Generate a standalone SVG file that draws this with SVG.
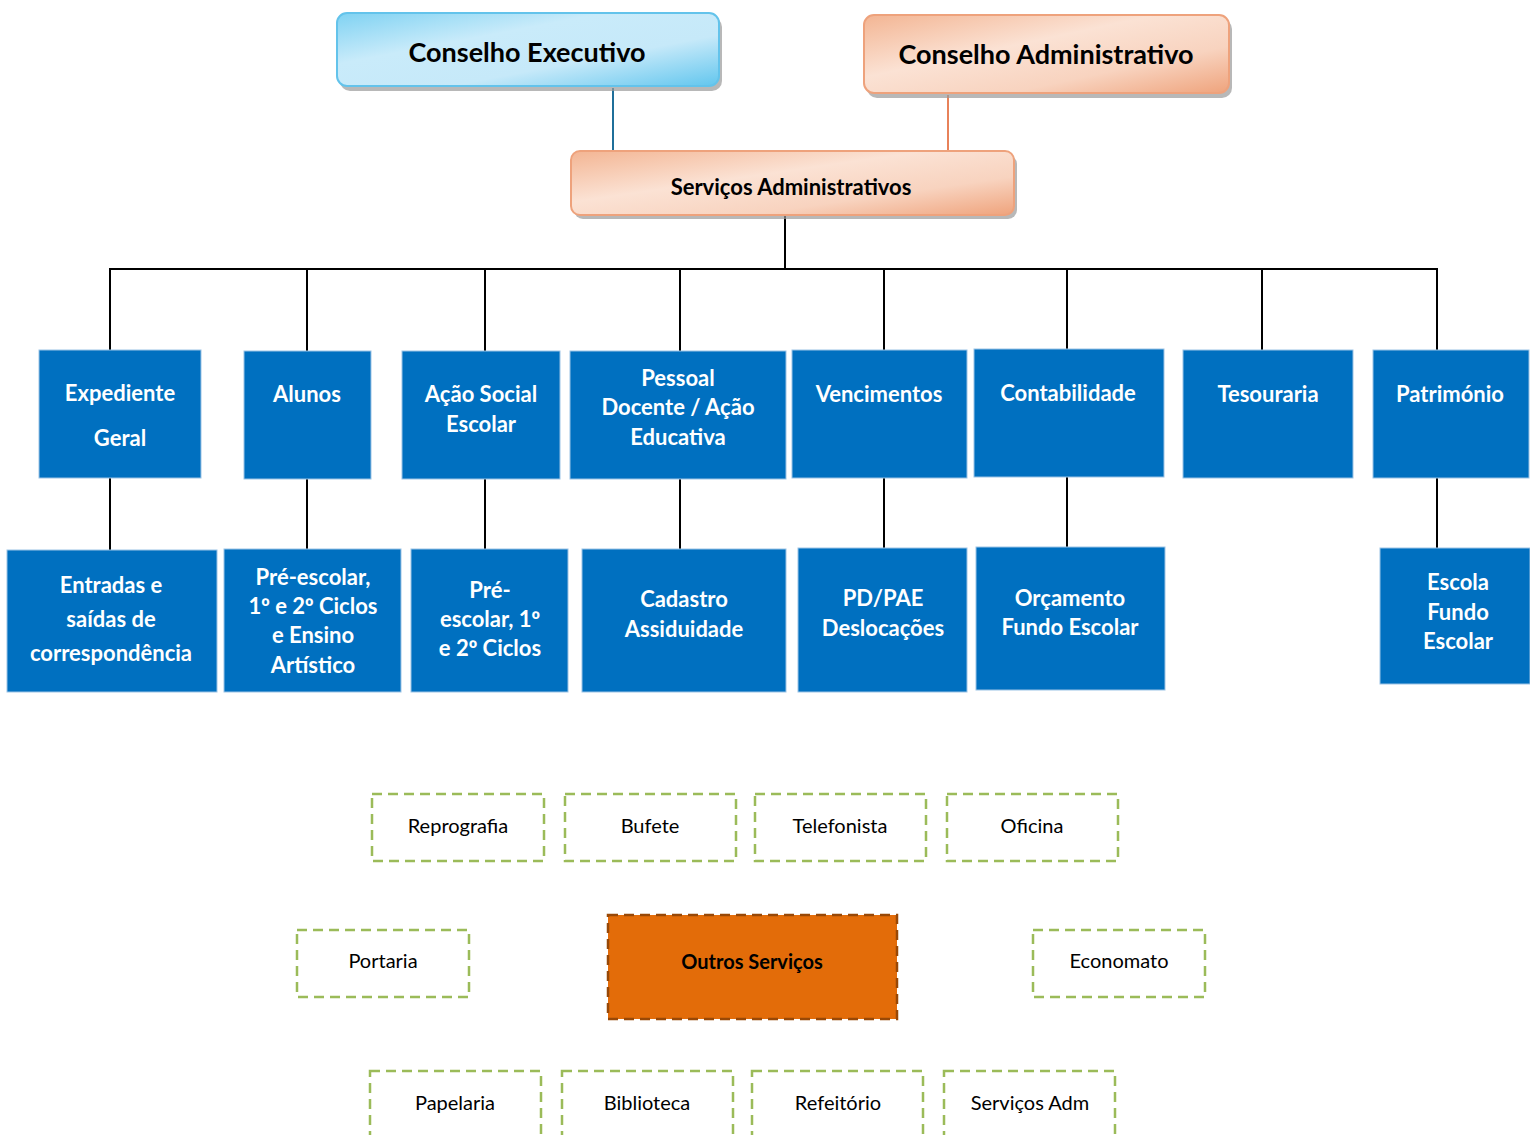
<svg xmlns="http://www.w3.org/2000/svg" width="1530" height="1135" viewBox="0 0 1530 1135">
<defs>
<linearGradient id="gBlue" x1="0" y1="0" x2="1" y2="1">
<stop offset="0" stop-color="#7fd2f2"/>
<stop offset="0.35" stop-color="#c9ebfa"/>
<stop offset="0.65" stop-color="#c6e9f9"/>
<stop offset="1" stop-color="#62c6ee"/>
</linearGradient>
<linearGradient id="gOrange" x1="0" y1="0" x2="1" y2="1">
<stop offset="0" stop-color="#f3b593"/>
<stop offset="0.4" stop-color="#fbe2d4"/>
<stop offset="0.7" stop-color="#f8d3bf"/>
<stop offset="1" stop-color="#efa37c"/>
</linearGradient>
<style>
.shadow{fill:#9a9a9a;opacity:0.7}
.rb{stroke:#63c3eb;stroke-width:2}
.ro{stroke:#eea27c;stroke-width:2}
.blue{fill:#0070c0;stroke:#9cc3e5;stroke-width:1}
.bt{font-family:Lato,"Open Sans",sans-serif;font-weight:bold;fill:#ffffff;font-size:22px;text-anchor:middle}
.ord{font-family:"Open Sans",sans-serif}
.ht{font-family:Lato,"Open Sans",sans-serif;font-weight:bold;fill:#000000;text-anchor:middle}
.dash{fill:#ffffff;stroke:#9bbb59;stroke-width:2.5;stroke-dasharray:10 6}
.dt{font-family:Lato,"Open Sans",sans-serif;fill:#000000;font-size:20px;text-anchor:middle}
.ln{stroke:#000000;stroke-width:2;fill:none}
</style>
</defs>

<g id="connectors">
<line x1="613" y1="88" x2="613" y2="151" stroke="#1f6f9a" stroke-width="2"/>
<line x1="948" y1="95" x2="948" y2="151" stroke="#e8825a" stroke-width="2"/>
<line class="ln" x1="785" y1="216" x2="785" y2="269"/>
<line class="ln" x1="109" y1="269" x2="1438" y2="269"/>
<line class="ln" x1="110" y1="269" x2="110" y2="350"/>
<line class="ln" x1="307" y1="269" x2="307" y2="351"/>
<line class="ln" x1="485" y1="269" x2="485" y2="351"/>
<line class="ln" x1="680" y1="269" x2="680" y2="351"/>
<line class="ln" x1="884" y1="269" x2="884" y2="350"/>
<line class="ln" x1="1067" y1="269" x2="1067" y2="349"/>
<line class="ln" x1="1262" y1="269" x2="1262" y2="350"/>
<line class="ln" x1="1437" y1="269" x2="1437" y2="350"/>
<line class="ln" x1="110" y1="478" x2="110" y2="550"/>
<line class="ln" x1="307" y1="479" x2="307" y2="549"/>
<line class="ln" x1="485" y1="479" x2="485" y2="549"/>
<line class="ln" x1="680" y1="479" x2="680" y2="549"/>
<line class="ln" x1="884" y1="478" x2="884" y2="548"/>
<line class="ln" x1="1067" y1="477" x2="1067" y2="547"/>
<line class="ln" x1="1437" y1="478" x2="1437" y2="548"/>
</g>

<g id="conselho-executivo">
<rect class="shadow" x="340" y="17" width="382" height="74" rx="10"/>
<rect class="rb" x="337" y="13" width="382" height="73" rx="10" fill="url(#gBlue)"/>
<text class="ht" x="527" y="62" font-size="27">Conselho Executivo</text>
</g>

<g id="conselho-administrativo">
<rect class="shadow" x="867" y="19" width="365" height="79" rx="10"/>
<rect class="ro" x="864" y="15" width="365" height="78" rx="10" fill="url(#gOrange)"/>
<text class="ht" x="1046" y="64" font-size="27">Conselho Administrativo</text>
</g>

<g id="servicos-administrativos">
<rect class="shadow" x="574" y="155" width="443" height="64" rx="9"/>
<rect class="ro" x="571" y="151" width="443" height="64" rx="9" fill="url(#gOrange)"/>
<text class="ht" x="791" y="195" font-size="22">Serviços Administrativos</text>
</g>

<g id="expediente-geral">
<rect class="blue" x="39" y="350" width="162" height="128"/>
<text class="bt" x="120" y="401">Expediente</text>
<text class="bt" x="120" y="446">Geral</text>
</g>
<g id="alunos">
<rect class="blue" x="244" y="351" width="127" height="128"/>
<text class="bt" x="307" y="402">Alunos</text>
</g>
<g id="acao-social-escolar">
<rect class="blue" x="402" y="351" width="158" height="128"/>
<text class="bt" x="481" y="402">Ação Social</text>
<text class="bt" x="481" y="432">Escolar</text>
</g>
<g id="pessoal-docente">
<rect class="blue" x="570" y="351" width="216" height="128"/>
<text class="bt" x="678" y="386">Pessoal</text>
<text class="bt" x="678" y="415">Docente / Ação</text>
<text class="bt" x="678" y="445">Educativa</text>
</g>
<g id="vencimentos">
<rect class="blue" x="792" y="350" width="175" height="128"/>
<text class="bt" x="879" y="402">Vencimentos</text>
</g>
<g id="contabilidade">
<rect class="blue" x="974" y="349" width="190" height="128"/>
<text class="bt" x="1068" y="401">Contabilidade</text>
</g>
<g id="tesouraria">
<rect class="blue" x="1183" y="350" width="170" height="128"/>
<text class="bt" x="1268" y="402">Tesouraria</text>
</g>
<g id="patrimonio">
<rect class="blue" x="1373" y="350" width="156" height="128"/>
<text class="bt" x="1450" y="402">Património</text>
</g>

<g id="entradas-saidas">
<rect class="blue" x="7" y="550" width="210" height="142"/>
<text class="bt" x="111" y="593">Entradas e</text>
<text class="bt" x="111" y="627">saídas de</text>
<text class="bt" x="111" y="661">correspondência</text>
</g>
<g id="pre-escolar-ensino">
<rect class="blue" x="224" y="549" width="177" height="143"/>
<text class="bt" x="313" y="585">Pré-escolar,</text>
<text class="bt" x="313" y="614">1<tspan class="ord">º</tspan> e 2<tspan class="ord">º</tspan> Ciclos</text>
<text class="bt" x="313" y="643">e Ensino</text>
<text class="bt" x="313" y="673">Artístico</text>
</g>
<g id="pre-escolar-ciclos">
<rect class="blue" x="411" y="549" width="157" height="143"/>
<text class="bt" x="490" y="598">Pré-</text>
<text class="bt" x="490" y="627">escolar, 1<tspan class="ord">º</tspan></text>
<text class="bt" x="490" y="656">e 2<tspan class="ord">º</tspan> Ciclos</text>
</g>
<g id="cadastro-assiduidade">
<rect class="blue" x="582" y="549" width="204" height="143"/>
<text class="bt" x="684" y="607">Cadastro</text>
<text class="bt" x="684" y="637">Assiduidade</text>
</g>
<g id="pd-pae">
<rect class="blue" x="798" y="548" width="169" height="144"/>
<text class="bt" x="883" y="606">PD/PAE</text>
<text class="bt" x="883" y="636">Deslocações</text>
</g>
<g id="orcamento">
<rect class="blue" x="976" y="547" width="189" height="143"/>
<text class="bt" x="1070" y="606">Orçamento</text>
<text class="bt" x="1070" y="635">Fundo Escolar</text>
</g>
<g id="escola-fundo-escolar">
<rect class="blue" x="1380" y="548" width="150" height="136"/>
<text class="bt" x="1458" y="590">Escola</text>
<text class="bt" x="1458" y="620">Fundo</text>
<text class="bt" x="1458" y="649">Escolar</text>
</g>

<g id="reprografia">
<rect class="dash" x="372" y="794" width="172" height="67"/>
<text class="dt" x="458" y="833">Reprografia</text>
</g>
<g id="bufete">
<rect class="dash" x="565" y="794" width="171" height="67"/>
<text class="dt" x="650" y="833">Bufete</text>
</g>
<g id="telefonista">
<rect class="dash" x="755" y="794" width="171" height="67"/>
<text class="dt" x="840" y="833">Telefonista</text>
</g>
<g id="oficina">
<rect class="dash" x="947" y="794" width="171" height="67"/>
<text class="dt" x="1032" y="833">Oficina</text>
</g>
<g id="portaria">
<rect class="dash" x="297" y="930" width="172" height="67"/>
<text class="dt" x="383" y="968">Portaria</text>
</g>
<g id="outros-servicos">
<rect x="608" y="915" width="289" height="104" fill="#e36c09" stroke="#984807" stroke-width="2.5" stroke-dasharray="10 6"/>
<text class="ht" x="752" y="969" font-size="20">Outros Serviços</text>
</g>
<g id="economato">
<rect class="dash" x="1033" y="930" width="172" height="67"/>
<text class="dt" x="1119" y="968">Economato</text>
</g>
<g id="papelaria">
<rect class="dash" x="370" y="1071" width="171" height="80"/>
<text class="dt" x="455" y="1110">Papelaria</text>
</g>
<g id="biblioteca">
<rect class="dash" x="562" y="1071" width="171" height="80"/>
<text class="dt" x="647" y="1110">Biblioteca</text>
</g>
<g id="refeitorio">
<rect class="dash" x="752" y="1071" width="171" height="80"/>
<text class="dt" x="838" y="1110">Refeitório</text>
</g>
<g id="servicos-adm">
<rect class="dash" x="944" y="1071" width="171" height="80"/>
<text class="dt" x="1030" y="1110">Serviços Adm</text>
</g>
</svg>
